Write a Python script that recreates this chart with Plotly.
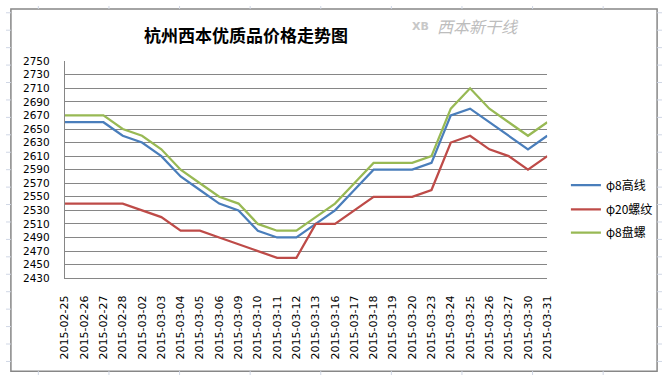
import plotly.graph_objects as go

W, H = 669, 381

dates = ["2015-02-25", "2015-02-26", "2015-02-27", "2015-02-28", "2015-03-02",
         "2015-03-03", "2015-03-04", "2015-03-05", "2015-03-06", "2015-03-09",
         "2015-03-10", "2015-03-11", "2015-03-12", "2015-03-13", "2015-03-16",
         "2015-03-17", "2015-03-18", "2015-03-19", "2015-03-20", "2015-03-23",
         "2015-03-24", "2015-03-25", "2015-03-26", "2015-03-27", "2015-03-30",
         "2015-03-31"]

wire_rod = [2660, 2660, 2660, 2640, 2630, 2610, 2580, 2560, 2540, 2530,
            2500, 2490, 2490, 2510, 2530, 2560, 2590, 2590, 2590, 2600,
            2670, 2680, 2660, 2640, 2620, 2640]
rebar20 = [2540, 2540, 2540, 2540, 2530, 2520, 2500, 2500, 2490, 2480,
           2470, 2460, 2460, 2510, 2510, 2530, 2550, 2550, 2550, 2560,
           2630, 2640, 2620, 2610, 2590, 2610]
coil8 = [2670, 2670, 2670, 2650, 2640, 2620, 2590, 2570, 2550, 2540,
         2510, 2500, 2500, 2520, 2540, 2570, 2600, 2600, 2600, 2610,
         2680, 2710, 2680, 2660, 2640, 2660]

series_names = ["φ8高线", "φ20螺纹", "φ8盘螺"]
series_colors = ["#4A7EBB", "#BE4B48", "#98B954"]
y_ticks = list(range(2430, 2751, 20))


def px(x):
    return x / W


def py(y):
    return 1 - y / H


fig = go.Figure()
legend_ids = ["legend", "legend2", "legend3"]
for name, vals, col, lg in zip(series_names, [wire_rod, rebar20, coil8],
                               series_colors, legend_ids):
    fig.add_trace(go.Scatter(x=dates, y=vals, name=name, mode="lines",
                             line=dict(color=col, width=2.25), legend=lg))

shapes = []
# spreadsheet background grid outside the chart frame
for yy in range(7, 381, 18):
    shapes.append(dict(type="line", xref="paper", yref="paper", x0=0, x1=px(5),
                       y0=py(yy), y1=py(yy), line=dict(color="#D0D7E5", width=1)))
    shapes.append(dict(type="line", xref="paper", yref="paper", x0=px(664), x1=1,
                       y0=py(yy), y1=py(yy), line=dict(color="#D0D7E5", width=1)))
for xx in range(33, 669, 72):
    shapes.append(dict(type="line", xref="paper", yref="paper", x0=px(xx), x1=px(xx),
                       y0=1, y1=py(3), line=dict(color="#D0D7E5", width=1)))
    shapes.append(dict(type="line", xref="paper", yref="paper", x0=px(xx), x1=px(xx),
                       y0=py(377), y1=0, line=dict(color="#D0D7E5", width=1)))
# chart frame
shapes.append(dict(type="rect", xref="paper", yref="paper", x0=px(5), x1=px(664),
                   y0=py(377), y1=py(3), line=dict(color="#878787", width=1.5),
                   layer="below"))


def legend_box(ycenter):
    return dict(x=px(571), y=py(ycenter), xanchor="left", yanchor="middle",
                font=dict(family="Noto Sans CJK SC", size=12, color="black"),
                bgcolor="rgba(0,0,0,0)", itemwidth=30)


fig.update_layout(
    width=W, height=H,
    margin=dict(l=0, r=0, t=0, b=0),
    paper_bgcolor="white", plot_bgcolor="white",
    showlegend=True,
    legend=legend_box(185),
    legend2=legend_box(210),
    legend3=legend_box(234),
    shapes=shapes,
    annotations=[
        dict(text="杭州西本优质品价格走势图", xref="paper", yref="paper",
             x=px(245), y=py(29), xanchor="center", yanchor="middle", showarrow=False,
             font=dict(family="Noto Sans CJK SC", size=17, color="black", weight=600)),
        dict(text="<i>西本新干线</i>", xref="paper", yref="paper",
             x=px(438), y=py(21), xanchor="left", yanchor="middle", showarrow=False,
             font=dict(family="Noto Sans CJK SC", size=16, color="#BDBDBD")),
        dict(text="<b>XB</b>", xref="paper", yref="paper",
             x=px(412), y=py(21), xanchor="left", yanchor="middle", showarrow=False,
             font=dict(family="DejaVu Sans", size=11, color="#C8C8C8")),
    ],
    xaxis=dict(domain=[px(60), px(552)], type="category", range=[0, len(dates) - 1],
               tickangle=-90, showgrid=False, showline=True, linecolor="#868686",
               linewidth=1, ticks="", ticklabelstandoff=12,
               tickfont=dict(family="DejaVu Sans", size=11, color="black")),
    yaxis=dict(domain=[py(281), py(57)], range=[2430, 2750], tickmode="array",
               tickvals=y_ticks, ticktext=[str(v) for v in y_ticks],
               showgrid=True, gridcolor="#868686", gridwidth=1, zeroline=False,
               showline=True, linecolor="#868686", linewidth=1, ticks="",
               ticklabelstandoff=12,
               tickfont=dict(family="DejaVu Sans", size=10.5, color="black")),
)

fig.write_html("out.html", config={"displayModeBar": False},
               post_script="document.body.style.margin='0';document.body.style.overflow='hidden';")
